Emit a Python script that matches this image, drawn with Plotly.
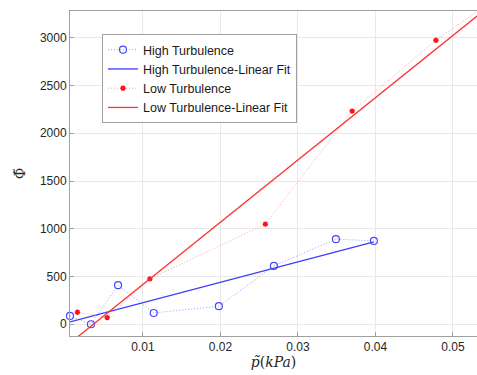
import plotly.graph_objects as go

# High turbulence data
high_x = [0.0006, 0.0033, 0.0068, 0.0114, 0.0198, 0.0269, 0.0349, 0.0398]
high_y = [87, 0, 409, 118, 189, 611, 891, 873]
high_fit_x = [0.0006, 0.0398]
high_fit_y = [24, 862]

# Low turbulence data
low_x = [0.00156, 0.0054, 0.0109, 0.0258, 0.0370, 0.0478, 0.058]
low_y = [126, 70, 475, 1048, 2232, 2973, 3551]
low_fit_x = [0.00156, 0.058]
low_fit_y = [-134, 3546]

x_ticks = [0.01, 0.02, 0.03, 0.04, 0.05]
x_tick_labels = ["0.01", "0.02", "0.03", "0.04", "0.05"]
y_ticks = [0, 500, 1000, 1500, 2000, 2500, 3000]
y_tick_labels = ["0", "500", "1000", "1500", "2000", "2500", "3000"]

fig = go.Figure()
fig.add_trace(go.Scatter(
    x=high_x, y=high_y, mode="lines+markers", name="High Turbulence",
    line=dict(color="rgba(110,110,255,0.7)", width=1, dash="1px,2px"),
    marker=dict(symbol="circle-open", size=7, color="rgb(70,70,255)", line=dict(width=1.2)),
    cliponaxis=False,
))
fig.add_trace(go.Scatter(
    x=high_fit_x, y=high_fit_y, mode="lines", name="High Turbulence-Linear Fit",
    line=dict(color="rgb(60,60,255)", width=1.3),
))
fig.add_trace(go.Scatter(
    x=low_x, y=low_y, mode="lines+markers", name="Low Turbulence",
    line=dict(color="rgba(255,120,120,0.7)", width=1, dash="1px,2px"),
    marker=dict(symbol="asterisk-open", size=4.5, color="rgb(255,20,20)", line=dict(width=1.5, color="rgb(255,20,20)")),
    cliponaxis=False,
))
fig.add_trace(go.Scatter(
    x=low_fit_x, y=low_fit_y, mode="lines", name="Low Turbulence-Linear Fit",
    line=dict(color="rgb(255,50,50)", width=1.3),
))

axis_font = dict(family="Liberation Sans, Arial, sans-serif", size=12, color="#262626")

fig.update_layout(
    width=477, height=375,
    margin=dict(l=70, r=0, t=11, b=39),
    paper_bgcolor="white", plot_bgcolor="white",
    showlegend=True,
    legend=dict(
        x=0.0786, y=0.929, xanchor="left", yanchor="top",
        bgcolor="white", bordercolor="#a0a0a0", borderwidth=1,
        font=dict(family="Liberation Sans, Arial, sans-serif", size=12.5, color="#1a1a1a"),
        tracegroupgap=0, itemwidth=30,
    ),
    xaxis=dict(
        range=[0.0006, 0.0531], tickvals=x_ticks, ticktext=x_tick_labels,
        showgrid=True, gridcolor="#e8e8e8", gridwidth=1,
        showline=True, linecolor="#a0a0a0", linewidth=1, mirror=True,
        ticks="inside", ticklen=4, tickcolor="#a0a0a0",
        tickfont=axis_font, zeroline=False,
        title=dict(text="<i>p̃</i>(<i>kPa</i>)", font=dict(family="DejaVu Serif, serif", size=14, color="#262626"), standoff=3),
    ),
    yaxis=dict(
        range=[-123, 3280], tickvals=y_ticks, ticktext=y_tick_labels,
        showgrid=True, gridcolor="#e8e8e8", gridwidth=1,
        showline=True, linecolor="#a0a0a0", linewidth=1, mirror=False,
        ticks="inside", ticklen=4, tickcolor="#a0a0a0",
        tickfont=axis_font, zeroline=False,
        title=dict(text="Φ̃", font=dict(family="DejaVu Serif, serif", size=14, color="#262626"), standoff=10),
    ),
)

fig.write_html("out.html")
